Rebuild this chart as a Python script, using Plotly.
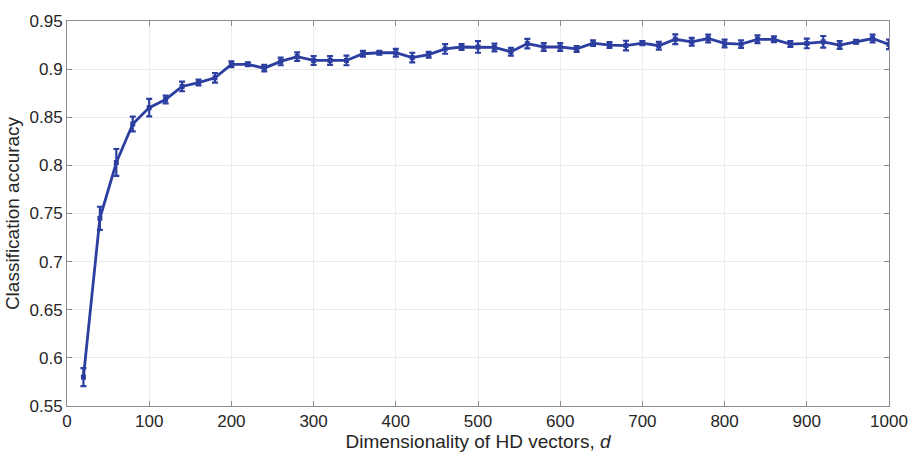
import plotly.graph_objects as go

dims = list(range(20, 1001, 20))
accuracy = [0.580, 0.745, 0.803, 0.843, 0.860, 0.8685, 0.882, 0.886, 0.891, 0.905,
            0.905, 0.901, 0.908, 0.913, 0.909, 0.909, 0.909, 0.916, 0.917, 0.917,
            0.912, 0.915, 0.921, 0.923, 0.923, 0.9225, 0.918, 0.9265, 0.923, 0.923,
            0.921, 0.927, 0.925, 0.9245, 0.927, 0.9243, 0.931, 0.9284, 0.9318, 0.9267,
            0.926, 0.931, 0.931, 0.926, 0.9267, 0.9284, 0.925, 0.9284, 0.9318, 0.9257]
error = [0.0093, 0.012, 0.014, 0.0076, 0.009, 0.004, 0.005, 0.003, 0.005, 0.003,
         0.002, 0.0034, 0.004, 0.0045, 0.0045, 0.0045, 0.005, 0.003, 0.002, 0.004,
         0.005, 0.003, 0.005, 0.003, 0.006, 0.004, 0.004, 0.005, 0.004, 0.004,
         0.003, 0.003, 0.003, 0.005, 0.002, 0.004, 0.005, 0.004, 0.004, 0.004,
         0.004, 0.004, 0.003, 0.003, 0.005, 0.006, 0.004, 0.002, 0.004, 0.005]

x_ticks = list(range(0, 1001, 100))
y_ticks = [0.55, 0.6, 0.65, 0.7, 0.75, 0.8, 0.85, 0.9, 0.95]
y_tick_text = ["0.55", "0.6", "0.65", "0.7", "0.75", "0.8", "0.85", "0.9", "0.95"]

color = "#2c3e9f"
font_family = "Liberation Sans, Arial, sans-serif"

fig = go.Figure()
fig.add_trace(go.Scatter(
    x=dims, y=accuracy,
    mode="lines+markers",
    line=dict(color=color, width=2.8),
    marker=dict(symbol="square", size=5, color=color),
    error_y=dict(type="data", array=error, visible=True, color=color,
                 thickness=2.2, width=3),
    showlegend=False,
))

axis_common = dict(
    showline=True, linecolor="#8c8c8c", linewidth=1, mirror="ticks",
    ticks="inside", ticklen=5, tickcolor="#8c8c8c",
    showgrid=True, gridcolor="#ebebeb", gridwidth=1,
    zeroline=False,
    tickfont=dict(family=font_family, size=17, color="#262626"),
)

fig.update_xaxes(range=[0, 1000], tickvals=x_ticks,
                 title=dict(text="Dimensionality of HD vectors, <i>d</i>", standoff=2,
                            font=dict(family=font_family, size=19, color="#262626")),
                 **axis_common)
fig.update_yaxes(range=[0.55, 0.95], tickvals=y_ticks, ticktext=y_tick_text,
                 title=dict(text="Classification accuracy", standoff=4,
                            font=dict(family=font_family, size=19, color="#262626")),
                 **axis_common)

fig.update_layout(
    width=920, height=459,
    margin=dict(l=66, r=26, t=12, b=52),
    plot_bgcolor="white", paper_bgcolor="white",
)

fig.write_html("out.html")
